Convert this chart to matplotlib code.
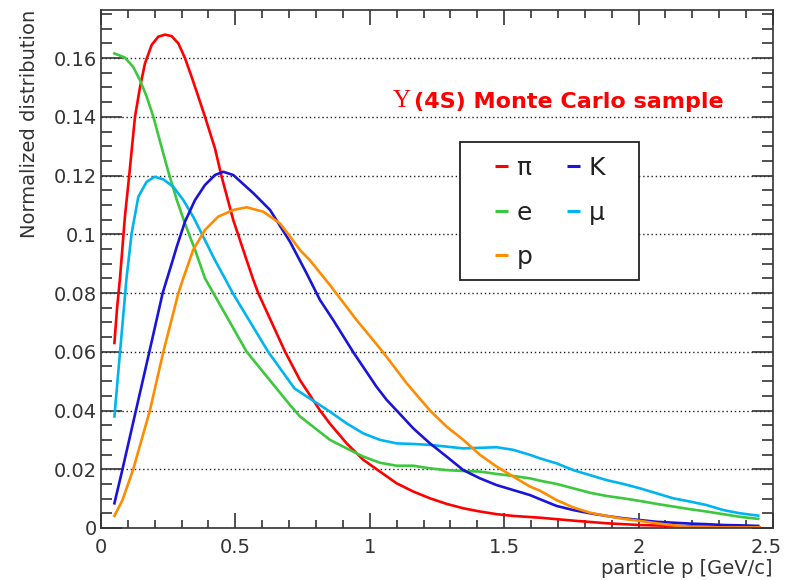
import matplotlib
matplotlib.use("Agg")
import matplotlib.pyplot as plt
import matplotlib.transforms as mtransforms
from matplotlib.patches import Rectangle
from matplotlib.ticker import MultipleLocator, FixedLocator

plt.rcParams['font.family'] = ['DejaVu Sans']

# curves (p in GeV/c, normalized distribution)
pi_x = [0.05, 0.06, 0.0707, 0.089, 0.105, 0.1265, 0.145, 0.1637, 0.1886, 0.213, 0.238, 0.263,
        0.288, 0.3125, 0.337, 0.362, 0.387, 0.424, 0.449, 0.492, 0.542, 0.567, 0.585, 0.685,
        0.74, 0.815, 0.852, 0.914, 0.976, 1.038, 1.10, 1.162, 1.224, 1.286, 1.348, 1.41,
        1.472, 1.534, 1.633, 1.757, 1.881, 2.005, 2.129, 2.253, 2.45]
pi_y = [0.063, 0.075, 0.085, 0.106, 0.120, 0.140, 0.150, 0.1582, 0.1645, 0.1673, 0.168, 0.1675,
        0.165, 0.160, 0.1537, 0.1469, 0.140, 0.1293, 0.1196, 0.1049, 0.0912, 0.0844, 0.080,
        0.060, 0.0504, 0.040, 0.0355, 0.0288, 0.0232, 0.0192, 0.0152, 0.0124, 0.0101, 0.0082,
        0.0067, 0.0056, 0.0047, 0.0041, 0.0035, 0.0025, 0.0016, 0.001, 0.0007, 0.0004, 0.0002]

e_x = [0.05, 0.089, 0.12, 0.145, 0.17, 0.195, 0.22, 0.25, 0.282, 0.3125, 0.35, 0.387, 0.418,
       0.542, 0.703, 0.74, 0.852, 0.914, 0.976, 1.038, 1.10, 1.162, 1.224, 1.286, 1.348,
       1.41, 1.472, 1.534, 1.596, 1.633, 1.695, 1.757, 1.819, 1.881, 1.943, 2.005, 2.067, 2.129,
       2.191, 2.253, 2.315, 2.377, 2.445]
e_y = [0.1616, 0.1602, 0.157, 0.1525, 0.1469, 0.140, 0.1315, 0.1215, 0.1117, 0.1037, 0.0947,
       0.085, 0.080, 0.060, 0.0419, 0.038, 0.0300, 0.0271, 0.0243, 0.0222, 0.0212,
       0.0212, 0.0203, 0.0197, 0.0194, 0.0192, 0.0184, 0.0177, 0.0169, 0.0161, 0.015, 0.0135,
       0.012, 0.0109, 0.0101, 0.0092, 0.0082, 0.0073, 0.0064, 0.0056, 0.0047, 0.0038, 0.0031]

mu_x = [0.05, 0.071, 0.095, 0.114, 0.139, 0.17, 0.20, 0.232, 0.269, 0.306, 0.343, 0.387, 0.424,
        0.461, 0.49, 0.622, 0.72, 0.852, 0.914, 0.976, 1.038, 1.10, 1.162, 1.224, 1.286, 1.348,
        1.41, 1.472, 1.534, 1.596, 1.633, 1.695, 1.757, 1.819, 1.881, 1.943, 2.005, 2.067, 2.129,
        2.191, 2.253, 2.315, 2.377, 2.445]
mu_y = [0.038, 0.060, 0.085, 0.1003, 0.1128, 0.1179, 0.1196, 0.1187, 0.1162, 0.1117, 0.106,
        0.098, 0.0912, 0.085, 0.080, 0.060, 0.0475, 0.0396, 0.0356, 0.0322, 0.030, 0.0288, 0.0286,
        0.0283, 0.0277, 0.0271, 0.0273, 0.0275, 0.0266, 0.0249, 0.0237, 0.022, 0.0197, 0.018,
        0.0163, 0.015, 0.0135, 0.0118, 0.0101, 0.009, 0.0078, 0.0061, 0.005, 0.0042]

k_x = [0.05, 0.08, 0.13, 0.18, 0.2295, 0.263, 0.282, 0.3125, 0.35, 0.387, 0.424, 0.455, 0.492,
       0.567, 0.629, 0.703, 0.765, 0.815, 0.864, 0.939, 1.025, 1.063, 1.10, 1.162, 1.224, 1.286,
       1.348, 1.41, 1.472, 1.534, 1.596, 1.633, 1.695, 1.757, 1.819, 1.881, 1.943, 2.005, 2.067,
       2.129, 2.191, 2.253, 2.315, 2.377, 2.445]
k_y = [0.0084, 0.020, 0.040, 0.060, 0.080, 0.090, 0.0958, 0.1043, 0.1117, 0.1168, 0.1202, 0.1213,
       0.1202, 0.114, 0.1083, 0.0975, 0.0867, 0.0776, 0.0708, 0.0598, 0.0481, 0.0436, 0.040,
       0.0339, 0.0288, 0.0243, 0.0197, 0.0169, 0.0146, 0.0129, 0.0112, 0.0098, 0.0075, 0.0061,
       0.005, 0.0041, 0.0033, 0.0027, 0.0021, 0.0018, 0.0015, 0.0013, 0.001, 0.0009, 0.0007]

p_x = [0.05, 0.08, 0.12, 0.182, 0.232, 0.288, 0.306, 0.343, 0.387, 0.436, 0.492, 0.542, 0.604,
       0.666, 0.703, 0.74, 0.777, 0.852, 0.951, 1.05, 1.137, 1.224, 1.286, 1.348, 1.41, 1.472,
       1.534, 1.596, 1.633, 1.695, 1.757, 1.819, 1.881, 1.943, 2.005, 2.067, 2.129, 2.191,
       2.253, 2.45]
p_y = [0.0041, 0.0095, 0.020, 0.040, 0.060, 0.080, 0.085, 0.0947, 0.1015, 0.106, 0.1083, 0.1092,
       0.1077, 0.1037, 0.0993, 0.0947, 0.0912, 0.0827, 0.0708, 0.0598, 0.0493, 0.040, 0.0345,
       0.030, 0.0249, 0.0209, 0.0175, 0.0141, 0.0127, 0.0095, 0.007, 0.0052, 0.0041, 0.0031,
       0.0024, 0.0016, 0.0009, 0.0004, 0.0002, 0.0002]

y_ticks = [0, 0.02, 0.04, 0.06, 0.08, 0.1, 0.12, 0.14, 0.16]
y_labels = ["0", "0.02", "0.04", "0.06", "0.08", "0.1", "0.12", "0.14", "0.16"]
x_ticks = [0, 0.5, 1, 1.5, 2, 2.5]
x_labels = ["0", "0.5", "1", "1.5", "2", "2.5"]

fig = plt.figure(figsize=(7.87, 5.8), dpi=100)
ax = fig.add_axes([0.1283, 0.0897, 0.8539, 0.8931])

lw = 1.9
l_pi, = ax.plot(pi_x, pi_y, color='#ff0000', lw=lw)
l_e, = ax.plot(e_x, e_y, color='#3cc83c', lw=lw)
l_mu, = ax.plot(mu_x, mu_y, color='#00b4f0', lw=lw)
l_k, = ax.plot(k_x, k_y, color='#1a14d8', lw=lw)
l_p, = ax.plot(p_x, p_y, color='#ff8c00', lw=lw)

ax.set_xlim(0, 2.5)
ax.set_ylim(0, 0.1764)

# ROOT-like frame and ticks
for s in ax.spines.values():
    s.set_linewidth(1.2)
    s.set_color('#333333')
ax.xaxis.set_major_locator(FixedLocator(x_ticks))
ax.set_xticklabels(x_labels)
ax.xaxis.set_minor_locator(MultipleLocator(0.1))
ax.yaxis.set_major_locator(FixedLocator(y_ticks))
ax.set_yticklabels(y_labels)
ax.yaxis.set_minor_locator(MultipleLocator(0.005))
ax.tick_params(axis='both', which='both', direction='in', top=True, right=True,
               color='#333333', width=1.2, labelsize=14, labelcolor='#333333')
ax.tick_params(axis='x', which='major', length=11, pad=7)
ax.tick_params(axis='x', which='minor', length=5.5)
ax.tick_params(axis='y', which='major', length=15, pad=3)
ax.tick_params(axis='y', which='minor', length=8)

# keep the last x label inside the picture
last = ax.get_xticklabels()[-1]
last.set_transform(last.get_transform() + mtransforms.ScaledTranslation(-7 / 100, 0, fig.dpi_scale_trans))

ax.grid(axis='y', which='major', color='#222222', linestyle=(0, (1, 2)), linewidth=1.0)

ax.set_xlabel("particle p [GeV/c]", fontsize=14, color='#333333', loc='right', labelpad=2)
fig.text(30 / 787, 1 - 10 / 580, "Normalized distribution", rotation=90, ha='center',
         va='top', fontsize=14, color='#333333')

# annotation: Upsilon in a serif face, rest bold sans
t1 = ax.text(1.086, 0.1433, "\u03a5", color='#ff0000', fontsize=18,
             family='Liberation Serif', va='baseline', ha='left')
ax.annotate("(4S) Monte Carlo sample", xy=(1, 0), xycoords=t1, color='#ff0000',
            fontsize=16, fontweight='bold', family='DejaVu Sans', va='bottom',
            ha='left', xytext=(2, 0), textcoords='offset points')

# legend box, ROOT style (two columns)
ax.add_patch(Rectangle((0.5342, 0.4788), 0.2664, 0.2664, transform=ax.transAxes,
                       facecolor='white', edgecolor='#222222', lw=1.3, zorder=5))
entries = [(l_pi, "\u03c0", 0, 0), (l_k, "K", 1, 0), (l_e, "e", 0, 1), (l_mu, "\u03bc", 1, 1),
           (l_p, "p", 0, 2)]
col_x = [0.5863, 0.6935]
row_y = [0.6815, 0.5946, 0.5097]
for line, lab, c, r in entries:
    x0 = col_x[c]
    y0 = row_y[r]
    ax.plot([x0, x0 + 0.019], [y0 + 0.017, y0 + 0.017], transform=ax.transAxes,
            color=line.get_color(), lw=2.2, zorder=6, solid_capstyle='butt')
    ax.text(x0 + 0.032, y0, lab, transform=ax.transAxes, fontsize=18, color='#222222',
            va='baseline', ha='left', zorder=6)

fig.savefig("out.png", dpi=100)
